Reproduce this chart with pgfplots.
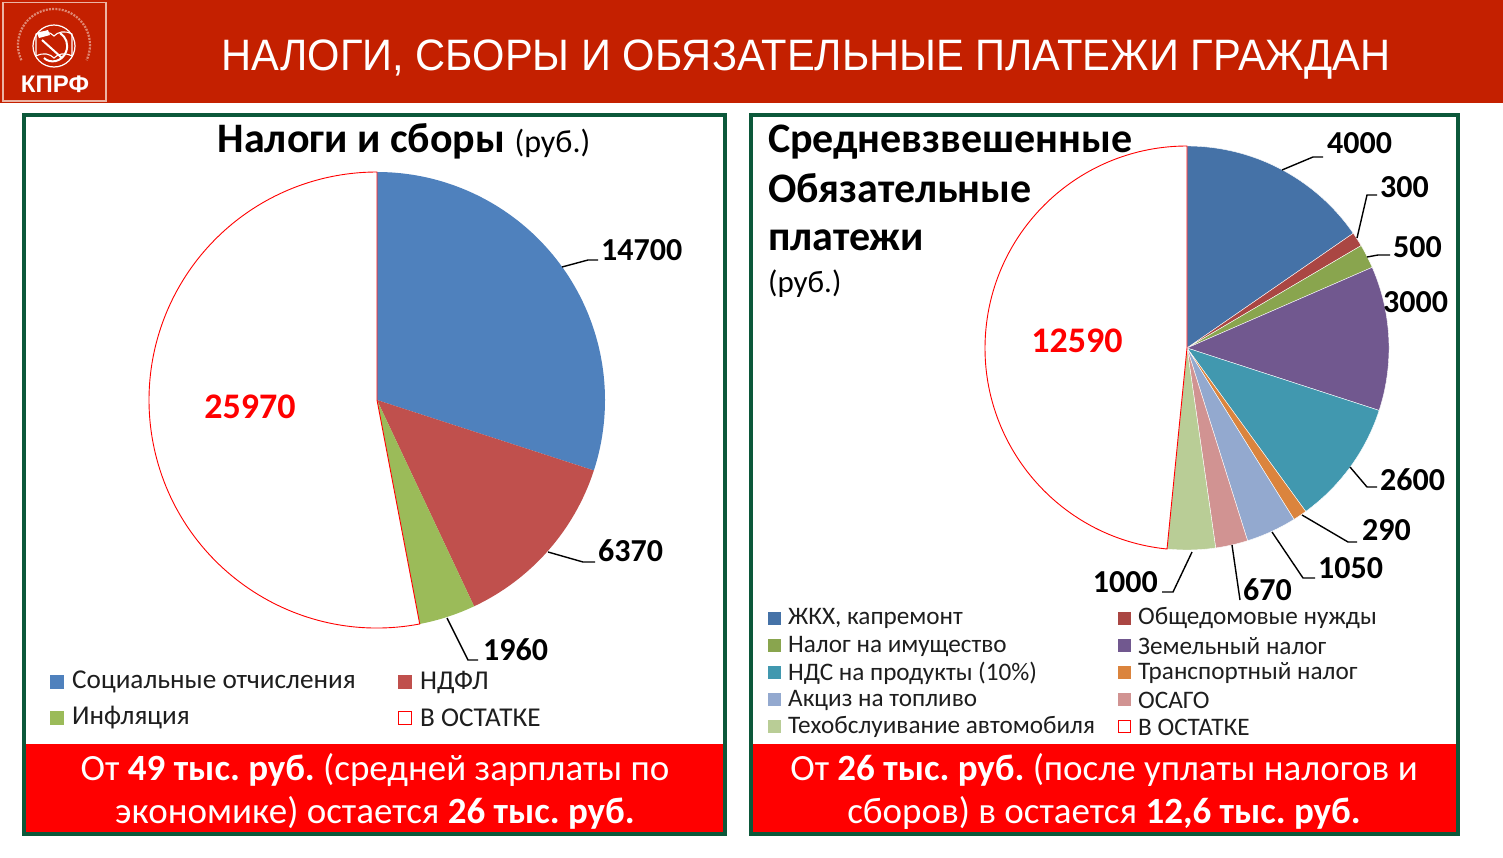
\documentclass[border=0pt]{standalone}
\usepackage{fontspec}
\setmainfont{Carlito}
\newfontfamily\arialf{Liberation Sans}
\usepackage{pgfplots}
\pgfplotsset{compat=1.18}
\usepackage{graphicx}
\frenchspacing
\definecolor{hdr}{RGB}{196,32,0}
\definecolor{pgreen}{RGB}{12,88,58}
\definecolor{logoedge}{RGB}{236,180,165}
\definecolor{lblue}{HTML}{4F81BD}
\definecolor{lred}{HTML}{C0504D}
\definecolor{lgreen}{HTML}{9BBB59}
\definecolor{rblue}{HTML}{4572A7}
\definecolor{rred}{HTML}{AA4643}
\definecolor{rgreen}{HTML}{89A54E}
\definecolor{rpurple}{HTML}{71588F}
\definecolor{rteal}{HTML}{4198AF}
\definecolor{rorange}{HTML}{DB843D}
\definecolor{rlblue}{HTML}{93A9CF}
\definecolor{rpink}{HTML}{D19392}
\definecolor{rlgreen}{HTML}{B9CD96}
\definecolor{txt}{RGB}{30,30,30}
% pie helper: values are plain numbers, angles computed from them
\newcommand\resetpie[2]{\xdef\pietotal{#1}\xdef\pieR{#2}\xdef\piecum{0}}
\newcommand\pieslice[2]{%
  \xdef\pieSA{\fpeval{90-360*\piecum/\pietotal}}%
  \xdef\piecum{\fpeval{\piecum+#1}}%
  \xdef\pieEA{\fpeval{90-360*\piecum/\pietotal}}%
  \edef\pietemp{\noexpand\filldraw[#2] (axis cs:0,0) -- ++(\pieSA:\pieR pt) arc[start angle=\pieSA, end angle=\pieEA, radius=\pieR pt] -- cycle;}%
  \pietemp}
\begin{document}
\begin{tikzpicture}[x=1pt,y=-1pt]
\useasboundingbox (0,0) rectangle (1503,857);
\fill[white] (0,0) rectangle (1503,857);
% header
\fill[hdr] (0,0) rectangle (1503,103);
\node[anchor=base, text=white, inner sep=0] at (806,70) {\scalebox{0.946}[1]{\fontsize{44}{50}\selectfont\arialf НАЛОГИ, СБОРЫ И ОБЯЗАТЕЛЬНЫЕ ПЛАТЕЖИ ГРАЖДАН}};
% logo
\draw[logoedge, line width=1.5pt] (3,2.5) rectangle (106,101);
\draw[logoedge!70!hdr, line width=2.2pt, dash pattern=on 2pt off 1.2pt] (54,45) ++(205:36pt) arc[start angle=205, end angle=-25, radius=36pt];
\draw[white, line width=1.2pt] (54,46) circle[radius=21pt];
\draw[white, line width=1.1pt] (36,34) .. controls (44,30) and (50,32) .. (54,36) .. controls (58,32) and (64,30) .. (72,34) -- (72,56) .. controls (64,52) and (58,54) .. (54,58) .. controls (50,54) and (44,52) .. (36,56) -- cycle;
\draw[white, line width=2pt] (42,40) -- (62,58);
\fill[white] (37,33) -- (48,30) -- (50,35) -- (39,38) -- cycle;
\draw[white, line width=2pt] (44,58) .. controls (50,64) and (62,62) .. (66,52) .. controls (69,44) and (66,37) .. (60,33);
\node[anchor=base, text=white, inner sep=0] at (55,92) {\fontsize{24}{26}\selectfont\arialf\bfseries КПРФ};
% red bottom bands
\fill[red] (26,744) rectangle (723,832);
\fill[red] (753,744) rectangle (1456,832);
% panels
\draw[pgreen, line width=4pt] (24,115) rectangle (725,834);
\draw[pgreen, line width=4pt] (751,115) rectangle (1458,834);

% ---------- left pie ----------
\begin{axis}[at={(377pt,-400pt)}, anchor=center, x=1pt, y=1pt,
  xmin=-240, xmax=240, ymin=-240, ymax=240, hide axis, clip=false, scale only axis]
  \resetpie{49000}{228}
  \pieslice{14700}{fill=lblue, draw=none}
  \pieslice{6370}{fill=lred, draw=none}
  \pieslice{1960}{fill=lgreen, draw=none}
  \pieslice{25970}{fill=white, draw=red, line width=0.9pt}
\end{axis}

% ---------- right pie ----------
\begin{axis}[at={(1187pt,-348pt)}, anchor=center, x=1pt, y=1pt,
  xmin=-210, xmax=210, ymin=-210, ymax=210, hide axis, clip=false, scale only axis]
  \resetpie{26000}{202}
  \pieslice{4000}{fill=rblue, draw=white, line width=0.4pt}
  \pieslice{300}{fill=rred, draw=white, line width=0.4pt}
  \pieslice{500}{fill=rgreen, draw=white, line width=0.4pt}
  \pieslice{3000}{fill=rpurple, draw=white, line width=0.4pt}
  \pieslice{2600}{fill=rteal, draw=white, line width=0.4pt}
  \pieslice{290}{fill=rorange, draw=white, line width=0.4pt}
  \pieslice{1050}{fill=rlblue, draw=white, line width=0.4pt}
  \pieslice{670}{fill=rpink, draw=white, line width=0.4pt}
  \pieslice{1000}{fill=rlgreen, draw=white, line width=0.4pt}
  \pieslice{12590}{fill=white, draw=red, line width=0.9pt}
\end{axis}

% titles
\node[anchor=base, inner sep=0] at (404,152) {\fontsize{42}{46}\selectfont\textbf{Налоги и сборы} \fontsize{32}{36}\selectfont(руб.)};
\node[anchor=base west, inner sep=0] at (768,152) {\fontsize{42}{46}\selectfont\bfseries Средневзвешенные};
\node[anchor=base west, inner sep=0] at (768,202) {\fontsize{42}{46}\selectfont\bfseries Обязательные};
\node[anchor=base west, inner sep=0] at (768,250) {\fontsize{42}{46}\selectfont\bfseries платежи};
\node[anchor=base west, inner sep=0] at (768,292) {\fontsize{31}{34}\selectfont (руб.)};

% left labels
\begin{scope}[every node/.style={inner sep=0, font=\fontsize{32}{36}\selectfont\bfseries}]
\draw[black, line width=1.4pt] (562,267) -- (588,260) -- (598,260);
\node[anchor=west] at (601,250) {14700};
\draw[black, line width=1.4pt] (548,552) -- (583,562) -- (595,562);
\node[anchor=west] at (598,551) {6370};
\draw[black, line width=1.4pt] (447,618) -- (468,660) -- (478,660);
\node[anchor=west] at (483,650) {1960};
% right labels
\draw[black, line width=1.4pt] (1282,170) -- (1313,157) -- (1323,157);
\node[anchor=west] at (1327,143) {4000};
\draw[black, line width=1.4pt] (1357,238) -- (1367,195) -- (1377,195);
\node[anchor=west] at (1380,187) {300};
\draw[black, line width=1.4pt] (1367,257) -- (1378,255) -- (1390,255);
\node[anchor=west] at (1393,247) {500};
\node[anchor=west] at (1383,302) {3000};
\draw[black, line width=1.4pt] (1350,467) -- (1367,487) -- (1377,487);
\node[anchor=west] at (1380,480) {2600};
\draw[black, line width=1.4pt] (1302,515) -- (1348,542) -- (1357,542);
\node[anchor=west] at (1362,530) {290};
\draw[black, line width=1.4pt] (1272,532) -- (1303,578) -- (1315,578);
\node[anchor=west] at (1318,568) {1050};
\draw[black, line width=1.4pt] (1232,545) -- (1240,600);
\node[anchor=west] at (1243,590) {670};
\draw[black, line width=1.4pt] (1192,552) -- (1173,592) -- (1162,592);
\node[anchor=east] at (1158,582) {1000};
\end{scope}
\node[text=red, inner sep=0] at (250,407) {\fontsize{36}{40}\selectfont\bfseries 25970};
\node[text=red, inner sep=0] at (1077,341) {\fontsize{36}{40}\selectfont\bfseries 12590};

% left legend
\begin{scope}[every node/.style={inner sep=0, anchor=west, text=txt, font=\fontsize{27.2}{30}\selectfont}]
\fill[lblue] (50,675) rectangle (64,689); \node at (72,682) {Социальные отчисления};
\fill[lred] (398,675) rectangle (412,689); \node at (420,682) {НДФЛ};
\fill[lgreen] (50,711) rectangle (64,725); \node at (72,718) {Инфляция};
\draw[red, line width=1pt, fill=white] (398.5,711.5) rectangle (411.5,724.5); \node at (420,718) {В ОСТАТКЕ};
\end{scope}
% right legend
\begin{scope}[every node/.style={inner sep=0, anchor=west, text=txt, font=\fontsize{25.2}{28}\selectfont}]
\fill[rblue] (768,612) rectangle (781,625); \node at (788,618) {ЖКХ, капремонт};
\fill[rred] (1118,612) rectangle (1131,625); \node at (1138,618) {Общедомовые нужды};
\fill[rgreen] (768,639) rectangle (781,652); \node at (788,646) {Налог на имущество};
\fill[rpurple] (1118,639) rectangle (1131,652); \node at (1138,646) {Земельный налог};
\fill[rteal] (768,666) rectangle (781,679); \node at (788,673) {НДС на продукты (10\%)};
\fill[rorange] (1118,666) rectangle (1131,679); \node at (1138,673) {Транспортный налог};
\fill[rlblue] (768,693) rectangle (781,706); \node at (788,700) {Акциз на топливо};
\fill[rpink] (1118,693) rectangle (1131,706); \node at (1138,700) {ОСАГО};
\fill[rlgreen] (768,720) rectangle (781,733); \node at (788,727) {Техобслуивание автомобиля};
\draw[red, line width=1pt, fill=white] (1118.5,720.5) rectangle (1130.5,732.5); \node at (1138,727) {В ОСТАТКЕ};
\end{scope}

% band texts
\begin{scope}[every node/.style={inner sep=0, anchor=base, text=white, font=\fontsize{37}{40}\selectfont}]
\node at (375,780) {От \textbf{49 тыс. руб.} (средней зарплаты по};
\node at (375,823) {экономике) остается \textbf{26 тыс. руб.}};
\node at (1104,780) {От \textbf{26 тыс. руб.} (после уплаты налогов и};
\node at (1104,823) {сборов) в остается \textbf{12,6 тыс. руб.}};
\end{scope}
\end{tikzpicture}
\end{document}
